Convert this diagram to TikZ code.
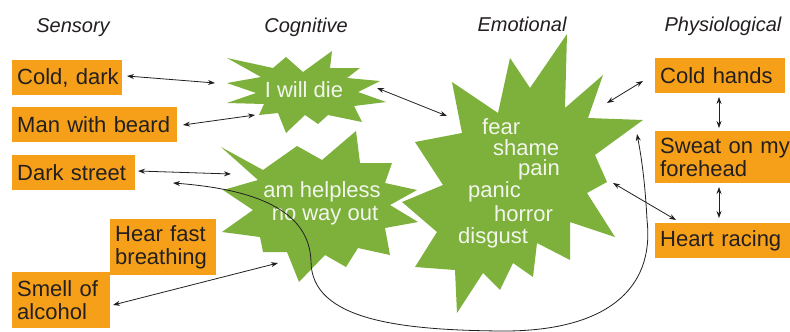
\documentclass[tikz,border=0pt]{standalone}
\usepackage{fontspec}
\setmainfont{Liberation Sans}
\usetikzlibrary{arrows.meta}
\definecolor{boxorange}{RGB}{246,160,26}
\definecolor{stargreen}{RGB}{125,177,59}
\definecolor{startext}{RGB}{242,246,236}
\definecolor{ink}{RGB}{35,31,32}
\begin{document}
\begin{tikzpicture}[x=1pt,y=-1pt,
  obox/.style={fill=boxorange, anchor=north west, inner xsep=5pt, inner ysep=0pt,
    align=left, text=ink, font=\fontsize{22}{23.5}\selectfont},
  header/.style={anchor=base, text=ink, font=\itshape\fontsize{20}{20}\selectfont},
  startxt/.style={text=startext, font=\fontsize{22}{23}\selectfont, inner sep=0pt},
  emo/.style={startxt, anchor=base west},
  star/.style={fill=stargreen},
  dbl/.style={{Stealth[length=7pt,width=5pt]}-{Stealth[length=7pt,width=5pt]}, line width=0.8pt, draw=ink}]
\clip (0,0) rectangle (790,332);
\fill[white] (0,0) rectangle (790,332);

% headers
\node[header] (hsens) at (73,32) {Sensory};
\node[header] (hcog) at (306,32) {Cognitive};
\node[header] (hemo) at (522,31) {Emotional};
\node[header] (hphys) at (723,31) {Physiological};

% stars
\fill[star] (567,34) -- (565,108) -- (603,75) -- (588,118) -- (643,120) -- (595,155)
  -- (607,182) -- (587,193) -- (615,237) -- (570,222) -- (570,260) -- (537,243)
  -- (533,277) -- (513,263) -- (500,290) -- (483,273) -- (457,313) -- (455,270)
  -- (415,267) -- (437,232) -- (402,202) -- (443,185) -- (415,142) -- (462,133)
  -- (452,82) -- (498,113) -- (510,58) -- (530,88) -- cycle;
\fill[star] (221,147) -- (263,170) -- (297,146) -- (322,160) -- (356,131) -- (360,163)
  -- (392,163) -- (385,183) -- (417,190) -- (390,205) -- (418,222) -- (385,228)
  -- (390,255) -- (358,248) -- (346,267) -- (325,255) -- (299,282) -- (287,252)
  -- (263,252) -- (260,237) -- (222,232) -- (253,210) -- (223,190) -- (258,180) -- cycle;
\fill[star] (227,58) -- (273,68) -- (286,57) -- (303,72) -- (332,51) -- (330,68)
  -- (360,68) -- (347,78) -- (380,81) -- (358,92) -- (386,102) -- (354,106)
  -- (362,122) -- (328,115) -- (318,124) -- (305,115) -- (286,133) -- (278,113)
  -- (259,115) -- (264,104) -- (227,103) -- (256,93) -- (227,83) -- (261,77) -- cycle;

% star texts
\node[startxt, anchor=base] (die) at (304,97) {I will die};
\node[startxt, anchor=base] (help) at (322,197) {am helpless};
\node[startxt, anchor=base] (noway) at (325,220) {no way out};
\node[emo] (fear) at (482,134) {fear};
\node[emo] (shame) at (493,155) {shame};
\node[emo] (pain) at (518,175) {pain};
\node[emo] (panic) at (468,197) {panic};
\node[emo] (horror) at (494,221) {horror};
\node[emo] (disgust) at (458,243) {disgust};

% boxes
\node[obox, text width=100pt, minimum height=35pt] (cold) at (12,60) {Cold,~dark};
\node[obox, text width=155pt, minimum height=35pt] (man) at (12,107) {Man~with~beard};
\node[obox, text width=113pt, minimum height=35pt] (dark) at (12,155) {Dark~street};
\node[obox, text width=96pt, minimum height=56pt] (hear) at (110,219) {Hear~fast\\breathing};
\node[obox, text width=88pt, minimum height=56pt] (smell) at (12,272) {Smell~of\\alcohol};
\node[obox, text width=120pt, minimum height=35pt] (hands) at (655,58) {Cold~hands};
\node[obox, text width=150pt, minimum height=52pt] (sweat) at (655,131) {Sweat~on~my\\forehead};
\node[obox, text width=150pt, minimum height=35pt] (heart) at (655,223) {Heart~racing};

% connector end points
\coordinate (p1a) at (127,76);  \coordinate (p1b) at (215,83);
\coordinate (p2a) at (183,125); \coordinate (p2b) at (255,115);
\coordinate (p3a) at (138,171); \coordinate (p3b) at (231,174);
\coordinate (p4a) at (113,305); \coordinate (p4b) at (278,263);
\coordinate (p5a) at (377,88);  \coordinate (p5b) at (447,116);
\coordinate (p6a) at (607,103); \coordinate (p6b) at (643,81);
\coordinate (p7a) at (719,97);  \coordinate (p7b) at (719,128);
\coordinate (p8a) at (719,187); \coordinate (p8b) at (719,218);
\coordinate (p9a) at (613,183); \coordinate (p9b) at (676,220);
\coordinate (c1) at (173,183);  \coordinate (c2) at (637,134);

\draw[dbl] (p1a) -- (p1b);
\draw[dbl] (p2a) -- (p2b);
\draw[dbl] (p3a) -- (p3b);
\draw[dbl] (p4a) -- (p4b);
\draw[dbl] (p5a) -- (p5b);
\draw[dbl] (p6a) -- (p6b);
\draw[dbl] (p7a) -- (p7b);
\draw[dbl] (p8a) -- (p8b);
\draw[dbl] (p9a) -- (p9b);
\draw[dbl] (c1) .. controls (265,190) and (310,215) .. (311,262)
  .. controls (312,320) and (400,330) .. (500,331)
  .. controls (605,332) and (655,290) .. (647,220)
  .. controls (645,180) and (641,155) .. (c2);
\end{tikzpicture}
\end{document}
